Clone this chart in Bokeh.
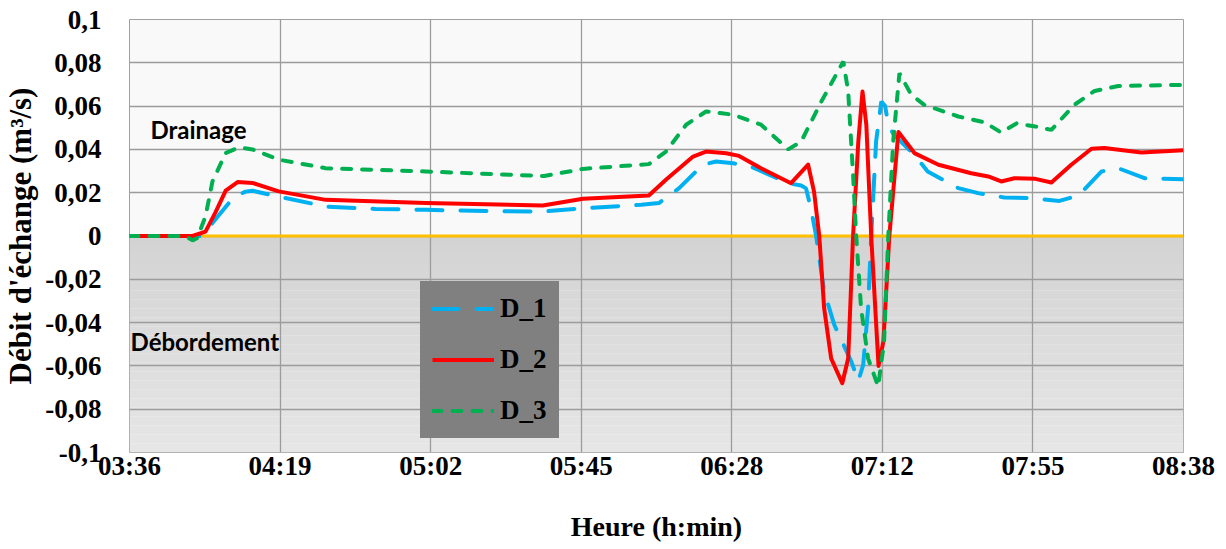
from bokeh.plotting import figure
from bokeh.models import (Range1d, FixedTicker, CustomJSTickFormatter, Span,
                          BoxAnnotation, Label, Legend, LegendItem)
from bokeh.embed import file_html
from bokeh.resources import INLINE

# ---------------- data (time in minutes since midnight, flow in m3/s) -------------
x_tick_minutes = [216, 259.2, 302.4, 345.6, 388.8, 432, 475.2, 518.4]
x_tick_labels = ["03:36", "04:19", "05:02", "05:45", "06:28", "07:12", "07:55", "08:38"]
y_ticks = [-0.1, -0.08, -0.06, -0.04, -0.02, 0, 0.02, 0.04, 0.06, 0.08, 0.1]
y_tick_labels = ["-0,1", "-0,08", "-0,06", "-0,04", "-0,02", "0",
                 "0,02", "0,04", "0,06", "0,08", "0,1"]

t_d1 = [216, 234, 236.4, 239.3, 245.9, 249.3, 251.3, 258.8, 272.3, 286.6,
        301.0, 318.2, 334.6, 346.1, 362.8, 367.9, 373.7, 380.5, 384.3, 389.2,
        394.4, 405.0, 408.7, 410.1, 411.6, 413.0, 415.3, 418.2, 423.1, 425.1,
        426.5, 427.9, 428.8, 430.2, 431.7, 432.8, 433.7, 435.3, 441.2, 445.0,
        453.8, 459.5, 467.0, 473.9, 482.8, 488.3, 494.9, 499.7, 507.2, 518.4]
d1 = [0, 0, 0, 0.005, 0.018, 0.0205, 0.0209, 0.0182, 0.0136, 0.0125,
      0.0121, 0.0115, 0.0113, 0.0128, 0.0144, 0.0152, 0.0221, 0.0329, 0.0344, 0.0336,
      0.032, 0.0244, 0.0233, 0.022, 0.012, 0, -0.0256, -0.041, -0.058, -0.067,
      -0.0595, -0.0334, 0, 0.0436, 0.0621, 0.060, 0.0514, 0.0467, 0.0375, 0.0298,
      0.0221, 0.0198, 0.0178, 0.0175, 0.0162, 0.0187, 0.0298, 0.0313, 0.0267, 0.0262]

t_d2 = [216, 234.1, 237.8, 240.7, 243.6, 247.0, 251.3, 258.8, 272.3, 301.0,
        334.6, 346.1, 365.0, 369.9, 377.7, 381.4, 387.2, 390.9, 397.2, 405.8,
        410.7, 412.4, 413.9, 415.3, 417.3, 420.5, 422.2, 423.6, 425.1, 426.3,
        427.4, 428.8, 430.9, 432.3, 434.0, 436.6, 441.2, 448.1, 457.5, 462.4,
        466.1, 469.9, 475.9, 480.5, 486.2, 492.0, 495.7, 506.3, 518.4]
d2 = [0, 0, 0.002, 0.011, 0.021, 0.0249, 0.0245, 0.0206, 0.0167, 0.0152,
      0.0141, 0.0172, 0.0187, 0.026, 0.0367, 0.039, 0.0382, 0.037, 0.0313, 0.0244,
      0.033, 0.0205, 0, -0.0334, -0.0565, -0.068, -0.0565, 0, 0.0436, 0.0667,
      0.0514, 0, -0.060, -0.0487, 0, 0.048, 0.0383, 0.0329, 0.029, 0.0275,
      0.0252, 0.0267, 0.0264, 0.0247, 0.0329, 0.0403, 0.0406, 0.0386, 0.0396]

t_d3 = [216, 232, 234.1, 235.4, 237.8, 239.8, 243.6, 247.3, 251.3, 258.8,
        272.3, 301.0, 335.0, 346.1, 365.0, 369.9, 375.7, 381.4, 386.0, 389.2,
        397.2, 405.0, 408.7, 414.5, 420.8, 422.2, 423.6, 424.5, 425.9, 427.9,
        430.8, 432.5, 433.7, 435.1, 436.9, 440.3, 444.0, 453.8, 461.3, 466.1,
        470.5, 475.9, 480.5, 487.1, 492.9, 499.7, 518.4]
d3 = [0, 0, -0.002, -0.001, 0.009, 0.0252, 0.0383, 0.0409, 0.040, 0.0353,
      0.0313, 0.0298, 0.0277, 0.031, 0.0332, 0.039, 0.0514, 0.0575, 0.0567, 0.056,
      0.0514, 0.040, 0.0436, 0.0621, 0.0806, 0.0667, 0.0283, 0, -0.0334, -0.0565,
      -0.0695, -0.0487, 0, 0.0436, 0.0752, 0.0652, 0.0606, 0.0552, 0.0525, 0.0478,
      0.052, 0.0506, 0.049, 0.0606, 0.067, 0.0693, 0.0698]

series_names = ["D_1", "D_2", "D_3"]

# ---------------- figure ----------------
p = figure(frame_width=1054, frame_height=433,
           x_range=Range1d(x_tick_minutes[0], x_tick_minutes[-1]),
           y_range=Range1d(y_ticks[0], y_ticks[-1]),
           output_backend="svg", toolbar_location=None,
           min_border_left=121, min_border_right=43,
           min_border_top=19, min_border_bottom=85,
           background_fill_color="#f9f9f9", border_fill_color="white",
           outline_line_color="#a0a0a0", outline_line_width=1)

# lower (overflow) half: light grey gradient
n_bands = 24
lo, hi = y_ticks[0], 0.0
for i in range(n_bands):
    b0 = hi - (hi - lo) * i / n_bands
    b1 = hi - (hi - lo) * (i + 1) / n_bands
    c = int(round(211 + (230 - 211) * (i + 0.5) / n_bands))
    p.add_layout(BoxAnnotation(top=b0, bottom=b1, fill_color=(c, c, c),
                               fill_alpha=1, line_color=None, level="image"))

fmt_code = """
let best = 0, d = Infinity;
for (let i = 0; i < pos.length; i++) { const e = Math.abs(pos[i] - tick); if (e < d) { d = e; best = i; } }
return lab[best];
"""
x_fmt = CustomJSTickFormatter(args=dict(pos=x_tick_minutes, lab=x_tick_labels), code=fmt_code)
y_fmt = CustomJSTickFormatter(args=dict(pos=y_ticks, lab=y_tick_labels), code=fmt_code)

p.xaxis.ticker = FixedTicker(ticks=x_tick_minutes)
p.yaxis.ticker = FixedTicker(ticks=y_ticks)
p.xgrid.ticker = FixedTicker(ticks=x_tick_minutes)
p.ygrid.ticker = FixedTicker(ticks=y_ticks)
p.xaxis.formatter = x_fmt
p.yaxis.formatter = y_fmt

for ax in (p.xaxis, p.yaxis):
    ax.axis_line_color = None
    ax.major_tick_line_color = None
    ax.minor_tick_line_color = None
    ax.major_label_text_font = "Liberation Serif"
    ax.major_label_text_font_style = "bold"
    ax.major_label_text_font_size = "27px"
    ax.major_label_text_color = "black"
    ax.axis_label_text_font = "Liberation Serif"
    ax.axis_label_text_font_style = "bold"
    ax.axis_label_text_color = "black"

p.xaxis.axis_label_text_font_size = "28px"
p.yaxis.axis_label_text_font_size = "31px"
p.xaxis.major_label_standoff = -8
p.yaxis.major_label_standoff = 22
p.xaxis.axis_label = "Heure (h:min)"
p.yaxis.axis_label = "Débit d'échange (m³/s)"
p.xaxis.axis_label_standoff = 27
p.yaxis.axis_label_standoff = 4

p.xgrid.grid_line_color = "#9c9c9c"
p.ygrid.grid_line_color = "#9c9c9c"
p.xgrid.grid_line_width = 1.3
p.ygrid.grid_line_width = 1.3

p.add_layout(Span(location=0, dimension="width", line_color="#FFC000",
                  line_width=3, level="underlay"))

r1 = p.line(t_d1, d1, line_color="#00B0F0", line_width=4, line_dash="26 18", line_cap="round")
r2 = p.line(t_d2, d2, line_color="#FF0000", line_width=4, line_join="round")
r3 = p.line(t_d3, d3, line_color="#00B050", line_width=4, line_dash="9 11", line_cap="round")

legend = Legend(items=[LegendItem(label=series_names[0], renderers=[r1]),
                       LegendItem(label=series_names[1], renderers=[r2]),
                       LegendItem(label=series_names[2], renderers=[r3])],
                location=(291, 14), padding=11, spacing=20, margin=0,
                label_height=31, glyph_height=31, glyph_width=62, label_standoff=6,
                background_fill_color="#808080", background_fill_alpha=1,
                border_line_color="#808080", border_line_width=1,
                label_text_font="Liberation Serif", label_text_font_style="bold",
                label_text_font_size="27px", label_text_color="black")
p.add_layout(legend)

p.add_layout(Label(x=222, y=0.0494, text="Drainage", text_font="Lato",
                   text_font_style="bold", text_font_size="24px",
                   text_baseline="middle", text_color="black"))
p.add_layout(Label(x=216.3, y=-0.0485, text="Débordement", text_font="Lato",
                   text_font_style="bold", text_font_size="24px",
                   text_baseline="middle", text_color="black"))

open("out.html", "w", encoding="utf-8").write(file_html(p, INLINE))
